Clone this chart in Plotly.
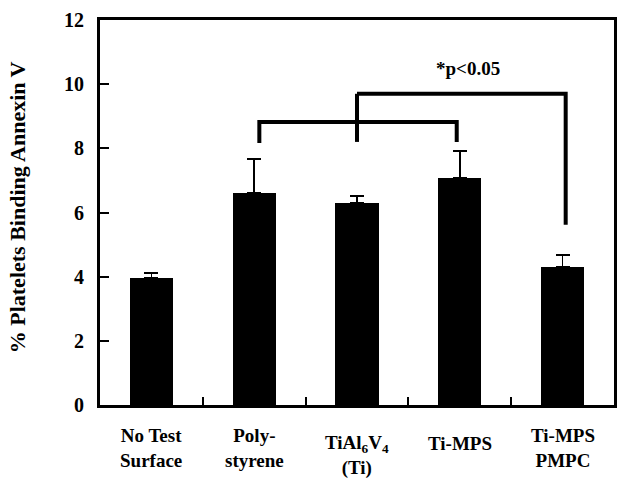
import plotly.graph_objects as go

categories = ["No Test<br>Surface", "Poly-<br>styrene", "TiAl<sub>6</sub>V<sub>4</sub><br>(Ti)", "Ti-MPS", "Ti-MPS<br>PMPC"]
values = [3.97, 6.62, 6.31, 7.08, 4.31]
errors = [0.14, 1.05, 0.21, 0.83, 0.36]
y_ticks = [0, 2, 4, 6, 8, 10, 12]

# significance brackets (data coordinates)
br_low_x = [1.05, 1.05, 2.97, 2.97]
br_low_y = [8.17, 8.82, 8.82, 8.20]
br_mid_x = [2.0, 2.0]
br_mid_y = [8.20, 9.70]
br_up_x = [2.0, 4.03, 4.03]
br_up_y = [9.70, 9.70, 5.62]
sig_text = "*p<0.05"
sig_pos = (3.08, 10.5)

FONT = "Liberation Serif, Times New Roman, Times, serif"
xs = list(range(len(categories)))

fig = go.Figure()
fig.add_trace(go.Bar(
    x=xs, y=values, width=0.42,
    marker=dict(color="black", line=dict(width=0)),
    error_y=dict(type="data", array=errors, arrayminus=[0] * len(errors), symmetric=False,
                 color="black", thickness=1.5, width=7),
    showlegend=False,
))
for bx, by in [(br_low_x, br_low_y), (br_mid_x, br_mid_y), (br_up_x, br_up_y)]:
    fig.add_trace(go.Scatter(x=bx, y=by, mode="lines",
                             line=dict(color="black", width=4),
                             showlegend=False, hoverinfo="skip"))

fig.add_annotation(x=sig_pos[0], y=sig_pos[1], text=sig_text, showarrow=False,
                   font=dict(family=FONT, size=19, color="black", weight="bold"),
                   xanchor="center", yanchor="middle")

# x category labels
for i, lab in enumerate(categories):
    n_lines = lab.count("<br>") + 1
    shift = -18 if n_lines > 1 else -26
    if "TiAl" in lab:
        shift = -25
    fig.add_annotation(x=i, xref="x", y=0, yref="paper", yanchor="top", yshift=shift,
                       text=lab, showarrow=False, align="center",
                       font=dict(family=FONT, size=19, color="black", weight="bold"))

# y title
fig.add_annotation(x=-0.16, xref="paper", y=0.513, yref="paper", textangle=-90,
                   text="% Platelets Binding Annexin V", showarrow=False,
                   font=dict(family=FONT, size=22, color="black", weight="bold"),
                   xanchor="center", yanchor="middle")

fig.update_layout(
    width=626, height=481,
    margin=dict(l=100, r=9, t=17, b=76),
    plot_bgcolor="white", paper_bgcolor="white",
    bargap=0,
)
fig.update_xaxes(range=[-0.5, 4.5], tickvals=[0.5, 1.5, 2.5, 3.5], showticklabels=False,
                 ticks="inside", ticklen=8, tickwidth=1.5, tickcolor="black",
                 showline=True, linecolor="black", linewidth=3, mirror=True,
                 showgrid=False, zeroline=False)
fig.update_yaxes(range=[0, 12], tickvals=y_ticks, ticks="inside", ticklen=9, tickwidth=1.5,
                 tickcolor="black", ticklabelstandoff=9,
                 tickfont=dict(family=FONT, size=20, color="black", weight="bold"),
                 showline=True, linecolor="black", linewidth=3, mirror=True,
                 showgrid=False, zeroline=False)

fig.write_html("out.html", config={"displayModeBar": False},
               post_script="document.body.style.margin='0';document.body.style.overflow='hidden';")
